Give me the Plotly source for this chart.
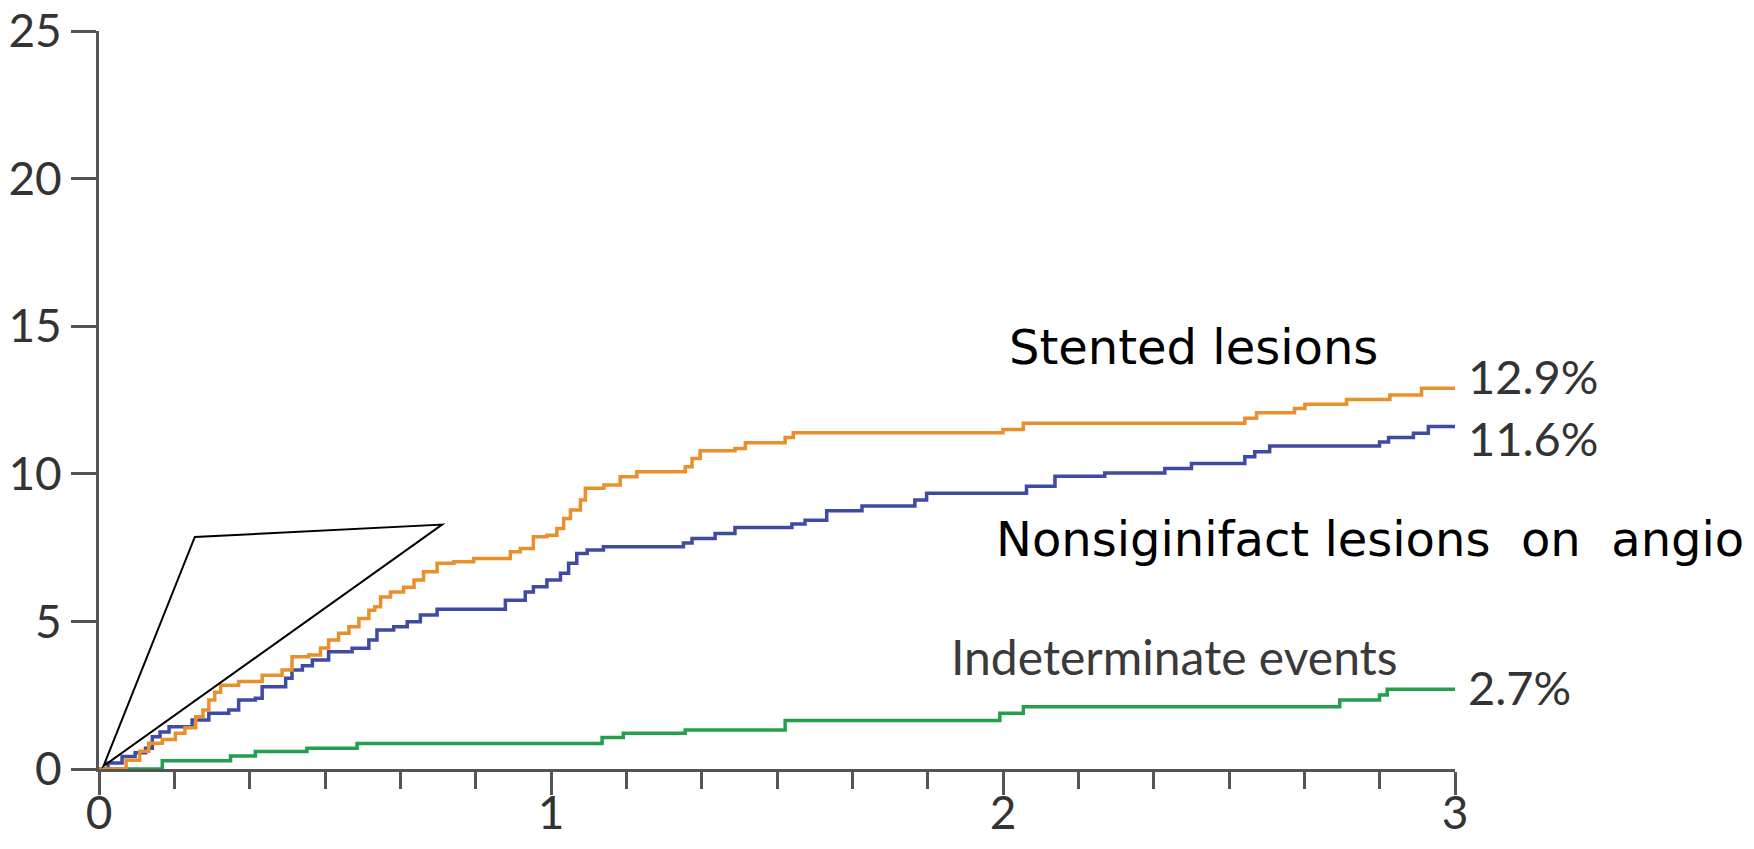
import plotly.graph_objects as go

# Cumulative incidence (%) by year of follow-up, step curves
stent_t = [0, 0.06, 0.09, 0.11, 0.14, 0.169, 0.19, 0.214, 0.23, 0.243, 0.256, 0.269, 0.309, 0.361,
           0.405, 0.427, 0.464, 0.49, 0.508, 0.53, 0.553, 0.575, 0.597, 0.61, 0.623, 0.645, 0.674,
           0.697, 0.718, 0.748, 0.785, 0.829, 0.91, 0.932, 0.961, 0.991, 1.013, 1.028, 1.043, 1.065,
           1.076, 1.117, 1.153, 1.19, 1.297, 1.312, 1.33, 1.407, 1.43, 1.518, 1.536, 2.0, 2.045,
           2.535, 2.561, 2.645, 2.668, 2.76, 2.856, 2.926, 3.0]
stent_v = [0, 0.3, 0.6, 0.87, 1.0, 1.21, 1.4, 1.77, 2.0, 2.34, 2.6, 2.84, 2.96, 3.18,
           3.35, 3.8, 3.86, 4.1, 4.37, 4.6, 4.82, 5.1, 5.38, 5.5, 5.83, 6.0, 6.16,
           6.4, 6.68, 6.97, 7.02, 7.13, 7.36, 7.47, 7.87, 7.92, 8.15, 8.49, 8.77, 9.11,
           9.51, 9.62, 9.9, 10.07, 10.24, 10.52, 10.78, 10.86, 11.05, 11.23, 11.39, 11.5, 11.71,
           11.88, 12.07, 12.21, 12.36, 12.52, 12.67, 12.9, 12.9]

nonsig_t = [0, 0.02, 0.051, 0.08, 0.103, 0.118, 0.135, 0.155, 0.206, 0.243, 0.287, 0.309, 0.346,
            0.361, 0.413, 0.427, 0.45, 0.472, 0.508, 0.56, 0.597, 0.615, 0.652, 0.682, 0.711,
            0.748, 0.899, 0.943, 0.961, 0.991, 1.021, 1.039, 1.057, 1.08, 1.116, 1.293, 1.312,
            1.363, 1.407, 1.533, 1.562, 1.61, 1.688, 1.805, 1.831, 2.052, 2.115, 2.225, 2.358,
            2.417, 2.535, 2.557, 2.59, 2.833, 2.853, 2.908, 2.941, 3.0]
nonsig_v = [0, 0.2, 0.42, 0.55, 0.7, 1.09, 1.25, 1.43, 1.66, 1.89, 2.0, 2.34, 2.4,
            2.79, 3.07, 3.35, 3.5, 3.69, 3.97, 4.09, 4.37, 4.71, 4.82, 4.99, 5.22,
            5.41, 5.72, 6.0, 6.17, 6.4, 6.63, 6.97, 7.3, 7.42, 7.53, 7.66, 7.81,
            7.98, 8.18, 8.3, 8.43, 8.75, 8.91, 9.11, 9.34, 9.58, 9.92, 10.03, 10.18,
            10.35, 10.58, 10.75, 10.94, 11.08, 11.23, 11.37, 11.6, 11.6]

indet_t = [0, 0.14, 0.291, 0.346, 0.46, 0.571, 1.113, 1.16, 1.297, 1.518, 1.993, 2.045,
           2.745, 2.833, 2.85, 3.0]
indet_v = [0, 0.28, 0.44, 0.59, 0.7, 0.86, 1.07, 1.21, 1.32, 1.64, 1.89, 2.11,
           2.34, 2.51, 2.7, 2.7]

x_ticks = [0, 1, 2, 3]
y_ticks = [0, 5, 10, 15, 20, 25]
X_MAX = 3

# Outline drawn from the origin over the early part of the curves
wedge_x = [0.01, 0.212, 0.759]
wedge_y = [0.1, 7.86, 8.28]

ORANGE = "#E8902C"
BLUE = "#3F4AA3"
GREEN = "#22A04E"
AXIS = "#555555"
TXT = "#333333"
NEJM_FONT = "Lato, 'Open Sans', sans-serif"

fig = go.Figure()
for tx, vy, col in [(indet_t, indet_v, GREEN), (nonsig_t, nonsig_v, BLUE), (stent_t, stent_v, ORANGE)]:
    fig.add_trace(go.Scatter(x=tx, y=vy, mode="lines", line=dict(color=col, width=3.5, shape="hv"),
                             cliponaxis=False, showlegend=False, hoverinfo="skip"))

wedge_path = "M {},{} L {},{} L {},{} Z".format(wedge_x[0], wedge_y[0], wedge_x[1], wedge_y[1],
                                                 wedge_x[2], wedge_y[2])
fig.add_shape(type="path", path=wedge_path, xref="x", yref="y",
              line=dict(color="black", width=2), fillcolor="rgba(0,0,0,0)")

# Curve names inside the plot area
curve_labels = [
    dict(x=2.421, y=14.3, text="Stented lesions", xanchor="center", yanchor="middle",
         font=dict(family="DejaVu Sans", size=48, color="black")),
    dict(x=1.981, y=7.79, text="Nonsiginifact lesions\u00a0 on\u00a0 angio", xanchor="left",
         yanchor="middle", font=dict(family="DejaVu Sans", size=48, color="black")),
    dict(x=1.88, y=3.8, text="Indeterminate events", xanchor="left", yanchor="middle",
         font=dict(family=NEJM_FONT, size=48, color="#3a3a3a")),
]
for a in curve_labels:
    fig.add_annotation(xref="x", yref="y", showarrow=False, **a)

# Final cumulative values printed just right of each curve end (paper x so they sit past the axis)
end_x = 3.025 / X_MAX
for vals, dy in [(stent_v, 0.42), (nonsig_v, -0.38), (indet_v, 0.08)]:
    fig.add_annotation(xref="paper", yref="y", x=end_x, y=vals[-1] + dy, text=f"{vals[-1]}%",
                       xanchor="left", yanchor="middle", showarrow=False,
                       font=dict(family=NEJM_FONT, size=47, color=TXT))

fig.update_layout(
    width=1754, height=849,
    margin=dict(l=99, r=299, t=31, b=80, pad=0),
    paper_bgcolor="white", plot_bgcolor="white",
    xaxis=dict(range=[0, X_MAX], tickvals=x_ticks, ticktext=[str(v) for v in x_ticks],
               automargin=False, ticklabelstandoff=-21,
               showgrid=False, zeroline=False, showline=True, linecolor=AXIS, linewidth=3,
               ticks="outside", ticklen=23, tickwidth=3, tickcolor=AXIS,
               minor=dict(ticks="outside", dtick=1 / 6, tick0=0, ticklen=17, tickwidth=3,
                          tickcolor=AXIS, showgrid=False),
               tickfont=dict(family=NEJM_FONT, size=46, color=TXT)),
    yaxis=dict(range=[0, 25], tickvals=y_ticks, ticktext=[str(v) for v in y_ticks],
               automargin=False,
               showgrid=False, zeroline=False, showline=True, linecolor=AXIS, linewidth=3,
               ticks="outside", ticklen=25, tickwidth=3, tickcolor=AXIS,
               tickfont=dict(family=NEJM_FONT, size=46, color=TXT)),
)

fig.write_html("out.html")
